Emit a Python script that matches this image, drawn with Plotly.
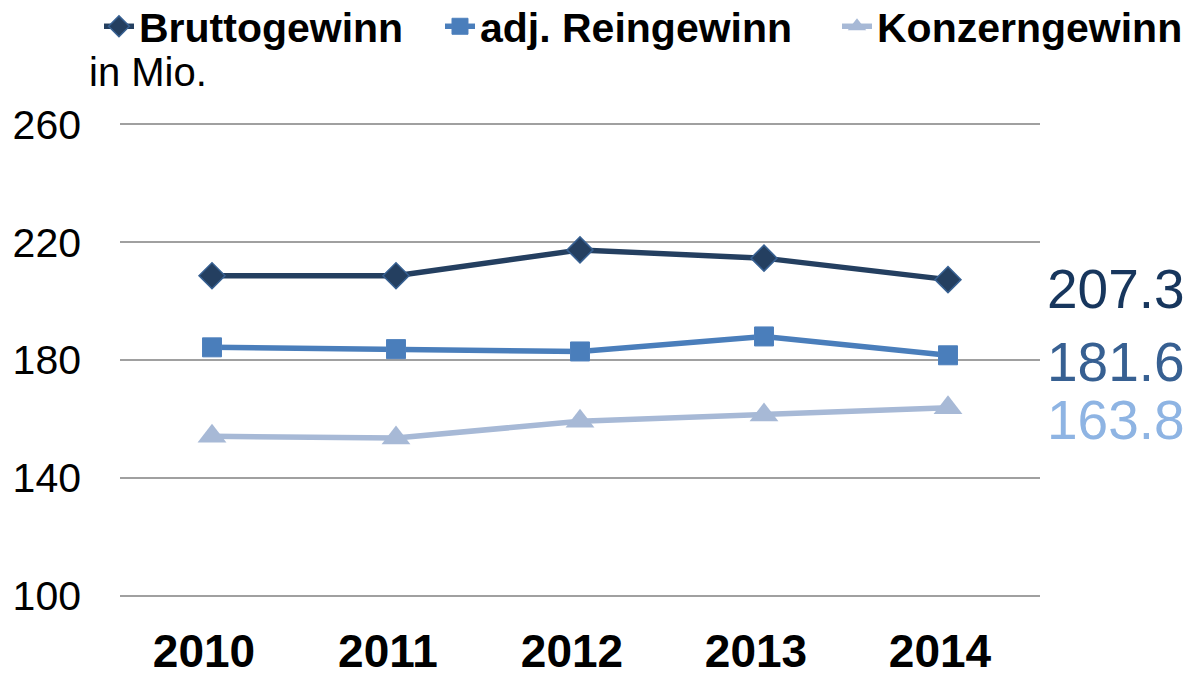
"""
Gewinnentwicklung 2010-2014, line chart with end labels
"""

import plotly.graph_objects as go

years = ['2010', '2011', '2012', '2013', '2014']
brutto = [208.6, 208.6, 217.4, 214.6, 207.3]
rein = [184.3, 183.7, 182.9, 188.0, 181.6]
konzern = [154.1, 153.5, 159.2, 161.3, 163.8]

series_names = ['Bruttogewinn', 'adj. Reingewinn', 'Konzerngewinn']
y_ticks = [100, 140, 180, 220, 260]

FONT = 'Liberation Sans, Arial, sans-serif'

fig = go.Figure()

# Bruttogewinn - dark navy with diamonds
fig.add_trace(go.Scatter(
    x=years, y=brutto, name=series_names[0],
    mode='lines+markers', legend='legend',
    line=dict(color='#243F60', width=5.5),
    marker=dict(symbol='diamond', size=20, color='#243F60',
                line=dict(color='#376092', width=1.5)),
))

# adj. Reingewinn - mid blue with squares
fig.add_trace(go.Scatter(
    x=years, y=rein, name=series_names[1],
    mode='lines+markers', legend='legend2',
    line=dict(color='#4A7EBB', width=5.5),
    marker=dict(symbol='square', size=19, color='#4A7EBB',
                line=dict(color='#4F81BD', width=1)),
))

# Konzerngewinn - pale blue with triangles
fig.add_trace(go.Scatter(
    x=years, y=konzern, name=series_names[2],
    mode='lines+markers', legend='legend3',
    line=dict(color='#A7B9D6', width=5.5),
    marker=dict(symbol='triangle-up', size=25, color='#A7B9D6'),
))

# Last value labels right of the plot area
label_colors = ['#17365D', '#376092', '#8EB4E3']
label_shifts = [-9, -7, -12]
for vals, col, shift in zip([brutto, rein, konzern], label_colors, label_shifts):
    fig.add_annotation(
        x=1, xref='paper', xanchor='left', xshift=5,
        y=vals[-1], yref='y', yanchor='middle', yshift=shift,
        text=f'{vals[-1]:.1f}', showarrow=False,
        font=dict(family=FONT, size=55, color=col),
    )

fig.add_annotation(
    x=-0.036, xref='paper', xanchor='left',
    y=1.108, yref='paper', yanchor='middle',
    text='in Mio.', showarrow=False,
    font=dict(family=FONT, size=40, color='#000000'),
)

# one legend per series so the entries sit on one row like the original
# NOTE: yref paper lets the legends sit slightly higher than container top allows
legend_font = dict(family=FONT, size=41, color='#000000', weight='bold')
legend_common = dict(
    orientation='h', xref='container', yref='paper',
    y=1.274, xanchor='left', yanchor='top',
    font=legend_font, bgcolor='rgba(0,0,0,0)',
)

# NOTE: the page body adds an 8px offset, margins are shifted to compensate
fig.update_layout(
    width=1194, height=673,
    margin=dict(l=112, r=162, t=115, b=84, autoexpand=False),
    paper_bgcolor='white', plot_bgcolor='white',
    font=dict(family=FONT, color='#000000'),
    showlegend=True,
    legend=dict(x=0.0762, **legend_common),
    legend2=dict(x=0.3618, **legend_common),
    legend3=dict(x=0.6943, **legend_common),
    xaxis=dict(
        type='category',
        range=[-0.5, 4.5],
        showgrid=False, showline=False, zeroline=False,
        tickfont=dict(family=FONT, size=46, color='#000000', weight='bold'),
        ticklabelstandoff=23,
        ticklabelshift=-8,
    ),
    yaxis=dict(
        range=[99.5, 260.5],
        tickvals=y_ticks,
        showgrid=True, gridcolor='#A0A0A0', gridwidth=2,
        zeroline=False, showline=False,
        tickfont=dict(family=FONT, size=41, color='#000000'),
        ticklabelstandoff=38,
    ),
)

fig.write_html('out.html')
